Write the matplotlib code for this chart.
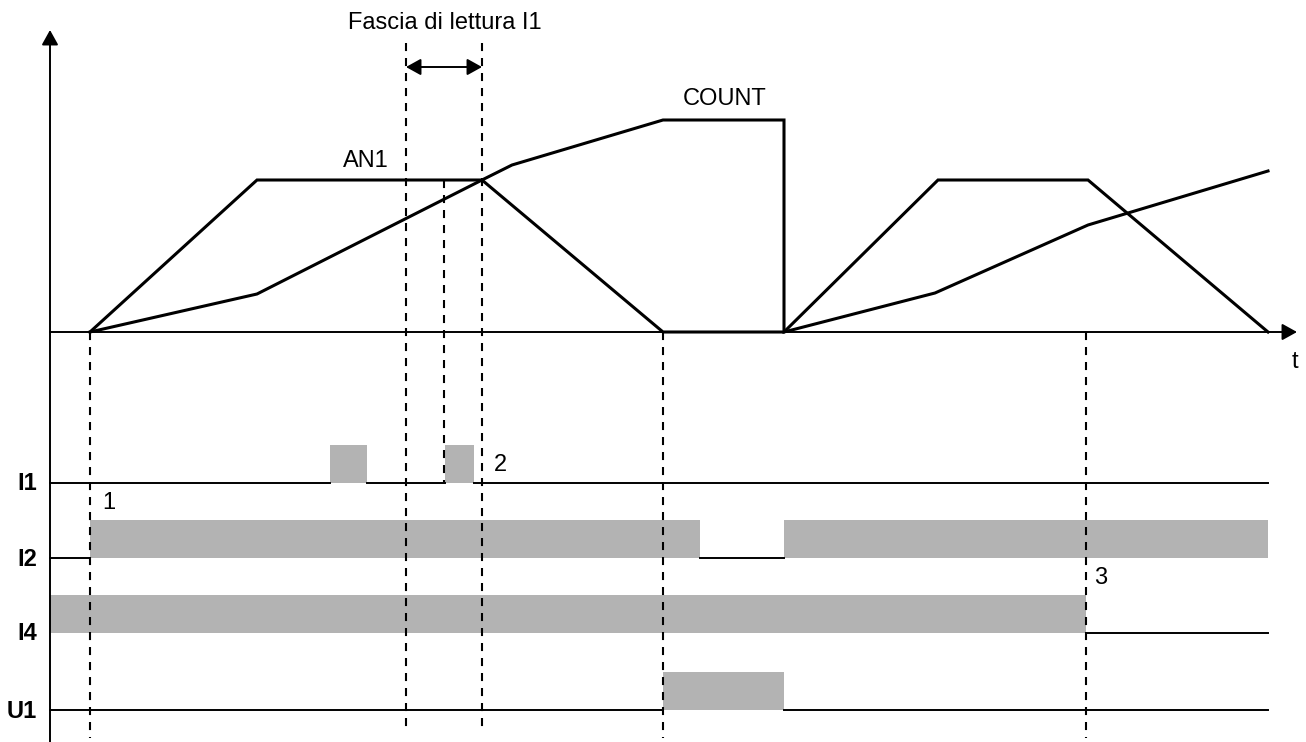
import matplotlib
matplotlib.use("Agg")
import matplotlib.pyplot as plt
from matplotlib.patches import Rectangle

plt.rcParams['font.family'] = ['Liberation Sans', 'DejaVu Sans']
plt.rcParams['lines.scale_dashes'] = False

# ---- data (time axis in diagram units, analog amplitude above the t-axis) ----
an1_t = [90, 257, 482, 663, 784, 938, 1088, 1268]
an1_v = [0, 152, 152, 0, 0, 152, 152, 0]

count_t = [90, 257, 482, 512, 663, 784, 784, 935, 1088, 1268]
count_v = [0, 38, 152, 167, 212, 212, 0, 39, 107, 161]

rows = ['I1', 'I2', 'I4', 'U1']
row_level = [483, 558, 633, 710]
row_high = [
    [(330, 367), (445, 474)],
    [(90, 700), (784, 1268)],
    [(50, 1086)],
    [(663, 784)],
]
t_start, t_end = 50, 1268

# dashed markers: (time, top, bottom)
markers = [(90, 332, 738), (406, 43, 728), (444, 180, 482), (482, 43, 728),
           (663, 332, 738), (1086, 332, 738)]
band = (406, 482)
notes = [('1', 109, 503), ('2', 500, 465), ('3', 1101, 578)]

# ---- layout ----
BASE = 332          # t-axis level
BAR_H = 38
GRAY = '#b3b3b3'
FS = 17

fig = plt.figure(figsize=(13.06, 7.42), dpi=100)
ax = fig.add_axes([0, 0, 1, 1])
ax.set_xlim(0, 1306)
ax.set_ylim(742, 0)
ax.axis('off')

# axes with arrows
ax.annotate('', xy=(50, 30), xytext=(50, 742),
            arrowprops=dict(arrowstyle='-|>,head_length=0.45,head_width=0.25',
                            mutation_scale=20, lw=1.4, color='black',
                            shrinkA=0, shrinkB=0))
ax.annotate('', xy=(1297, BASE), xytext=(50, BASE),
            arrowprops=dict(arrowstyle='-|>,head_length=0.45,head_width=0.25',
                            mutation_scale=20, lw=1.4, color='black',
                            shrinkA=0, shrinkB=0))
ax.text(1295, 362, 't', fontsize=FS, ha='center', va='center')

# analog curves
ax.plot(an1_t, [BASE - v for v in an1_v], color='black', lw=2.2,
        solid_joinstyle='miter', zorder=3)
ax.plot(count_t, [BASE - v for v in count_v], color='black', lw=2.2,
        solid_joinstyle='miter', zorder=3)
ax.text(366, 161, 'AN1', fontsize=FS, ha='center', va='center')
ax.text(725, 99, 'COUNT', fontsize=FS, ha='center', va='center')

# digital signals
for name, lvl, highs in zip(rows, row_level, row_high):
    cur = t_start
    for a, b in highs:
        if a > cur:
            ax.plot([cur, a], [lvl, lvl], color='black', lw=1.4, zorder=2)
        ax.add_patch(Rectangle((a, lvl - BAR_H), b - a, BAR_H,
                               facecolor=GRAY, edgecolor='none', zorder=1))
        cur = b
    if cur < t_end:
        ax.plot([cur, t_end], [lvl, lvl], color='black', lw=1.4, zorder=2)
    ax.text(37, lvl + 1, name, fontsize=FS, ha='right', va='center',
            fontweight='bold')

# dashed vertical markers
for x, top, bot in markers:
    ax.plot([x, x], [top, bot], color='black', lw=1.5,
            dashes=(5.8, 5.0), zorder=4)

# reading band
ax.annotate('', xy=(band[1], 67), xytext=(band[0], 67),
            arrowprops=dict(arrowstyle='<|-|>,head_length=0.45,head_width=0.25',
                            mutation_scale=20, lw=1.4, color='black',
                            shrinkA=0, shrinkB=0))
ax.text(445, 23, 'Fascia di lettura I1', fontsize=FS, ha='center', va='center')

for s, x, y in notes:
    ax.text(x, y, s, fontsize=FS, ha='center', va='center')

fig.savefig('out.png', dpi=100)
